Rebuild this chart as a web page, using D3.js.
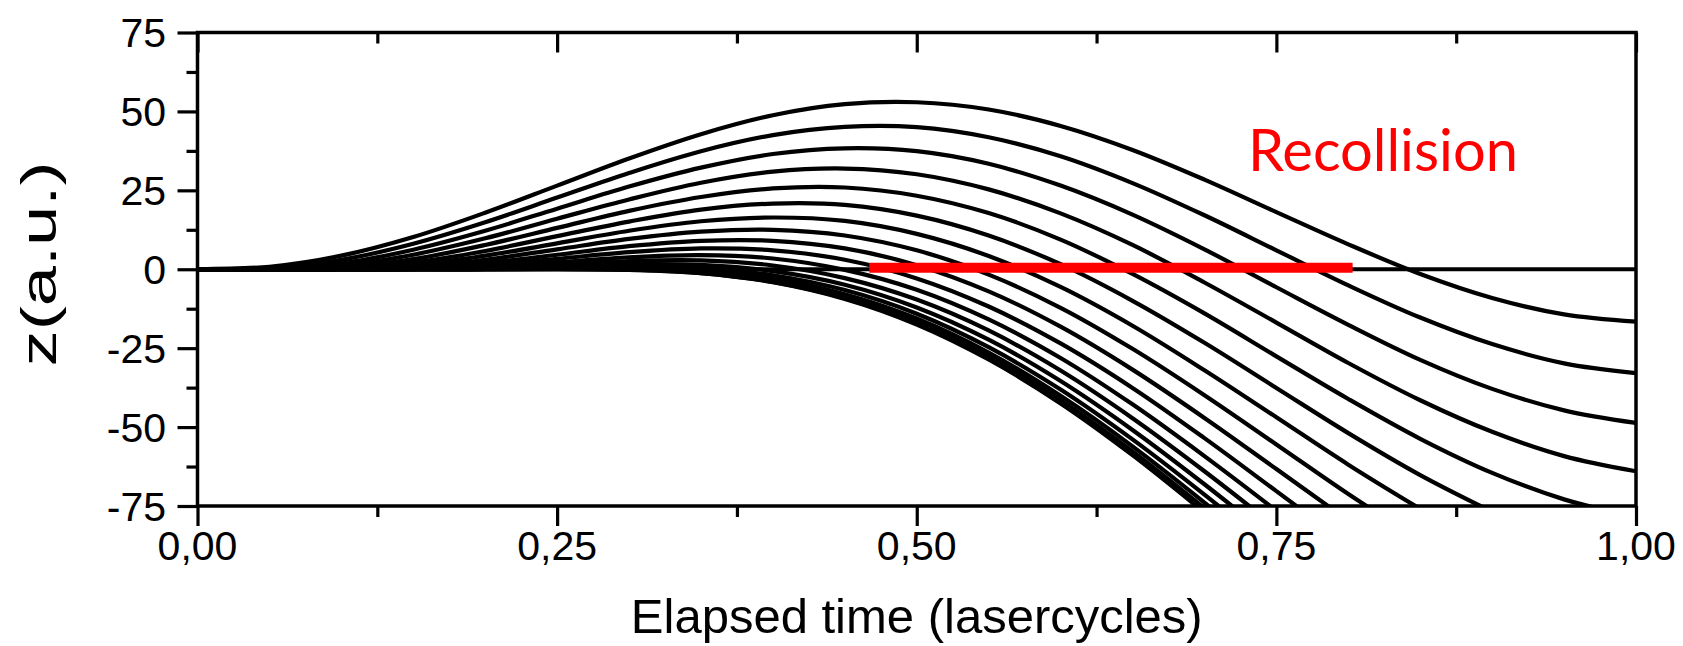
<!DOCTYPE html>
<html>
<head>
<meta charset="utf-8">
<script src="https://cdn.jsdelivr.net/npm/d3@7"></script>
<style>
  body { margin: 0; background: #fff; }
  text { font-family: "Liberation Sans", Arial, sans-serif; fill: #000; }
</style>
</head>
<body>
<div id="chart"></div>
<script>
// elapsed time grid (laser cycles)
const times = [0, 0.05, 0.1, 0.15, 0.2, 0.25, 0.3, 0.35, 0.4, 0.45, 0.5,
               0.55, 0.6, 0.65, 0.7, 0.75, 0.8, 0.85, 0.9, 0.95, 1.0];

// one trajectory per ionization phase, z (a.u.) read at each time of the grid
const phases = [5, 10, 15, 20, 25, 30, 35, 40, 45, 50, 55, 60, 65, 70, 75, 80, 85, 90];
const z05 = [0, 0.8, 4.3, 10.2, 17.9, 26.5, 35.1, 42.8, 48.8, 52.3, 52.9, 50.6, 45.4, 37.8, 28.4, 18.1, 7.9, -1.5, -9.1, -14.3, -16.6];
const z10 = [0, 0.3, 3.0, 8.1, 14.9, 22.7, 30.5, 37.4, 42.5, 45.1, 45.0, 41.8, 35.8, 27.3, 17.1, 6.0, -5.1, -15.3, -23.7, -29.8, -32.9];
const z15 = [0, 0.0, 1.9, 6.2, 12.2, 19.2, 26.2, 32.2, 36.5, 38.3, 37.4, 33.4, 26.5, 17.3, 6.3, -5.7, -17.6, -28.7, -37.9, -44.7, -48.7];
const z20 = [0, 0, 1.1, 4.6, 9.8, 16.0, 22.1, 27.4, 30.9, 31.9, 30.1, 25.3, 17.7, 7.7, -4.2, -16.9, -29.7, -41.5, -51.5, -59.2, -64.0];
const z25 = [0, 0, 0.5, 3.2, 7.7, 13.1, 18.5, 22.9, 25.6, 25.9, 23.3, 17.8, 9.4, -1.5, -14.0, -27.6, -41.1, -53.7, -64.5, -72.9, -78.5];
const z30 = [0, 0, 0.1, 2.1, 5.8, 10.5, 15.1, 18.9, 20.8, 20.4, 17.0, 10.7, 1.6, -10.0, -23.3, -37.6, -51.9, -65.2, -76.8];
const z35 = [0, 0, 0, 1.3, 4.3, 8.2, 12.2, 15.2, 16.4, 15.3, 11.2, 4.2, -5.6, -17.9, -32.0, -46.9, -61.9, -75.9];
const z40 = [0, 0, 0, 0.6, 3.0, 6.3, 9.6, 11.9, 12.5, 10.7, 6.0, -1.7, -12.2, -25.2, -39.9, -55.5, -71.2, -85.9];
const z45 = [0, 0, 0, 0.3, 2.0, 4.6, 7.3, 9.0, 9.0, 6.6, 1.3, -7.0, -18.2, -31.8, -47.1, -63.3, -79.6];
const z50 = [0, 0, 0, 0.0, 1.2, 3.3, 5.4, 6.6, 6.0, 3.0, -2.9, -11.8, -23.5, -37.6, -53.5, -70.3, -87.2];
const z55 = [0, 0, 0, 0, 0.7, 2.2, 3.8, 4.5, 3.4, -0.2, -6.5, -15.9, -28.1, -42.8, -59.2, -76.5];
const z60 = [0, 0, 0, 0, 0.3, 1.4, 2.6, 2.8, 1.2, -2.8, -9.6, -19.4, -32.1, -47.2, -64.0, -81.8];
const z65 = [0, 0, 0, 0, 0.1, 0.8, 1.6, 1.4, -0.6, -4.9, -12.1, -22.3, -35.4, -50.9, -68.1, -86.3];
const z70 = [0, 0, 0, 0, 0.0, 0.4, 0.9, 0.3, -1.9, -6.6, -14.1, -24.7, -38.1, -53.9, -71.4, -89.9];
const z75 = [0, 0, 0, 0, 0, 0.2, 0.4, -0.4, -2.9, -7.9, -15.6, -26.4, -40.1, -56.1, -73.9, -92.7];
const z80 = [0, 0, 0, 0, 0, 0.1, 0.0, -0.9, -3.6, -8.7, -16.7, -27.6, -41.5, -57.7, -75.7];
const z85 = [0, 0, 0, 0, 0, 0.0, -0.1, -1.2, -4.0, -9.2, -17.3, -28.4, -42.3, -58.6, -76.7];
const z90 = [0, 0, 0, 0, 0, 0, -0.2, -1.2, -4.1, -9.4, -17.5, -28.6, -42.5, -58.9, -77.1];
const trajectories = [z05, z10, z15, z20, z25, z30, z35, z40, z45, z50, z55, z60, z65, z70, z75, z80, z85, z90];

// zero line and the recollision window
const zeroLine = [[0, 0], [1, 0]];
const recollision = [[0.467, 0.5], [0.803, 0.5]];
const recollisionLabel = "Recollision";

// axes
const xMajor = [0, 0.25, 0.5, 0.75, 1.0];
const xMinor = [0.125, 0.375, 0.625, 0.875];
const xTickLabels = ["0,00", "0,25", "0,50", "0,75", "1,00"];
const yMajor = [75, 50, 25, 0, -25, -50, -75];
const yMinor = [62.5, 37.5, 12.5, -12.5, -37.5, -62.5];
const yTickLabels = ["75", "50", "25", "0", "-25", "-50", "-75"];
const xTitle = "Elapsed time (lasercycles)";
const yTitle = "z(a.u.)";

const W = 1683, H = 646;
const margin = {left: 197.5, right: 1636, top: 32.5, bottom: 506};

const svg = d3.select("#chart").append("svg")
    .attr("width", W)
    .attr("height", H)
    .style("display", "block");

const x = d3.scaleLinear().domain([0, 1]).range([margin.left, margin.right]);
const y = d3.scaleLinear().domain([-75, 75]).range([margin.bottom, margin.top]);

svg.append("defs").append("clipPath")
    .attr("id", "plot-clip")
    .append("rect")
    .attr("x", margin.left)
    .attr("y", margin.top)
    .attr("width", margin.right - margin.left)
    .attr("height", margin.bottom - margin.top);

const plot = svg.append("g").attr("clip-path", "url(#plot-clip)");

const line = d3.line()
    .x(d => x(d[0]))
    .y(d => y(d[1]))
    .curve(d3.curveCatmullRom.alpha(0.5));

const straight = d3.line().x(d => x(d[0])).y(d => y(d[1]));

plot.append("path")
    .datum(zeroLine)
    .attr("d", straight)
    .attr("fill", "none")
    .attr("stroke", "#000")
    .attr("stroke-width", 4);

plot.selectAll("path.traj")
    .data(trajectories.map(zs => zs.map((z, i) => [times[i], z])))
    .join("path")
    .attr("class", "traj")
    .attr("d", line)
    .attr("fill", "none")
    .attr("stroke", "#000")
    .attr("stroke-width", 4.2)
    .attr("stroke-linejoin", "round");

plot.append("path")
    .datum(recollision)
    .attr("d", straight)
    .attr("stroke", "#ff0000")
    .attr("stroke-width", 10);

svg.append("text")
    .attr("x", 1248)
    .attr("y", 171)
    .attr("textLength", 270)
    .attr("lengthAdjust", "spacingAndGlyphs")
    .style("font-family", "Lato, 'Open Sans', sans-serif")
    .style("font-size", "59px")
    .style("fill", "#ff0000")
    .text(recollisionLabel);

// ticks
function ticks(g) {
    g.select(".domain").remove();
    g.selectAll(".tick line").attr("stroke", "#000").attr("stroke-width", 3.2);
    g.selectAll(".tick text").remove();
}

svg.append("g").attr("transform", `translate(0,${margin.bottom})`)
    .call(d3.axisBottom(x).tickValues(xMajor).tickSize(20)).call(ticks);
svg.append("g").attr("transform", `translate(0,${margin.bottom})`)
    .call(d3.axisBottom(x).tickValues(xMinor).tickSize(11)).call(ticks);
svg.append("g").attr("transform", `translate(0,${margin.top})`)
    .call(d3.axisBottom(x).tickValues(xMajor).tickSize(20)).call(ticks);
svg.append("g").attr("transform", `translate(0,${margin.top})`)
    .call(d3.axisBottom(x).tickValues(xMinor).tickSize(11)).call(ticks);
svg.append("g").attr("transform", `translate(${margin.left},0)`)
    .call(d3.axisLeft(y).tickValues(yMajor).tickSize(20)).call(ticks);
svg.append("g").attr("transform", `translate(${margin.left},0)`)
    .call(d3.axisLeft(y).tickValues(yMinor).tickSize(11)).call(ticks);

// frame
svg.append("rect")
    .attr("x", margin.left)
    .attr("y", margin.top)
    .attr("width", margin.right - margin.left)
    .attr("height", margin.bottom - margin.top)
    .attr("fill", "none")
    .attr("stroke", "#000")
    .attr("stroke-width", 3.5);

// tick labels
svg.selectAll("text.xlab")
    .data(xMajor)
    .join("text")
    .attr("class", "xlab")
    .attr("x", d => x(d))
    .attr("y", 560)
    .attr("text-anchor", "middle")
    .style("font-size", "41px")
    .text((d, i) => xTickLabels[i]);

svg.selectAll("text.ylab")
    .data(yMajor)
    .join("text")
    .attr("class", "ylab")
    .attr("x", 166)
    .attr("y", d => y(d))
    .attr("dy", "0.36em")
    .attr("text-anchor", "end")
    .style("font-size", "41px")
    .text((d, i) => yTickLabels[i]);

// titles
svg.append("text")
    .attr("x", (margin.left + margin.right) / 2)
    .attr("y", 633)
    .attr("text-anchor", "middle")
    .style("font-size", "49px")
    .text(xTitle);

svg.append("text")
    .attr("transform", `translate(56,264) rotate(-90)`)
    .attr("text-anchor", "middle")
    .attr("textLength", 205)
    .attr("lengthAdjust", "spacingAndGlyphs")
    .style("font-size", "50px")
    .text(yTitle);
</script>
</body>
</html>
